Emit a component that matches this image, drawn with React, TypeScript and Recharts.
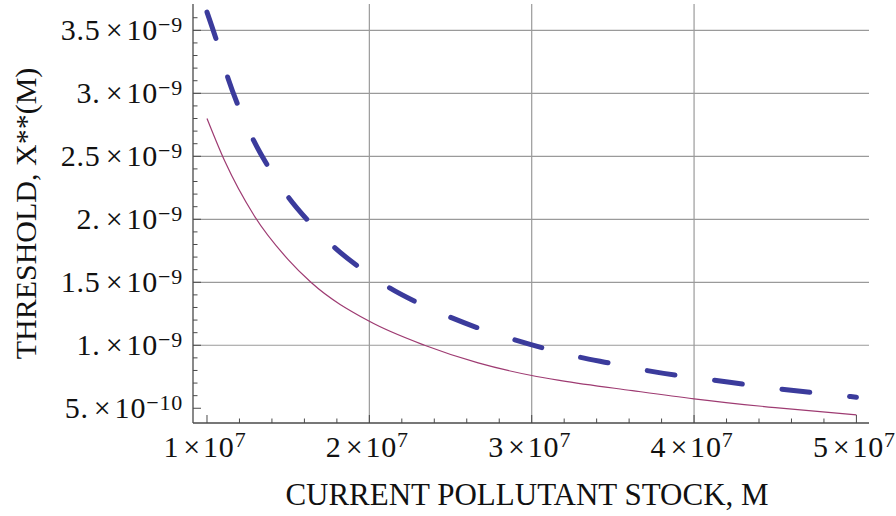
import React from "react";
import { LineChart, Line, XAxis, YAxis, CartesianGrid } from "recharts";

// dashed curve
const dashedStock = [
  1.0e7, 1.065e7, 1.13e7, 1.196e7, 1.288e7, 1.383e7, 1.506e7, 1.633e7, 1.79e7,
  1.94e7, 2.125e7, 2.3e7, 2.494e7, 2.679e7, 2.888e7, 3.079e7, 3.284e7, 3.489e7,
  3.694e7, 3.9e7, 4.105e7, 4.32e7, 4.515e7, 4.73e7, 4.935e7, 5.0e7,
];
const dashedThreshold = [
  3.645e-9, 3.395e-9, 3.118e-9, 2.888e-9, 2.624e-9, 2.405e-9, 2.167e-9,
  1.974e-9, 1.771e-9, 1.617e-9, 1.455e-9, 1.336e-9, 1.225e-9, 1.133e-9,
  1.046e-9, 0.975e-9, 0.909e-9, 0.856e-9, 0.803e-9, 0.76e-9, 0.726e-9,
  0.688e-9, 0.655e-9, 0.624e-9, 0.597e-9, 0.588e-9,
];

// solid curve
const solidStock = [
  1.0e7, 1.11e7, 1.29e7, 1.5e7, 1.64e7, 2.0e7, 2.34e7, 2.67e7, 3.0e7,
  3.18e7, 3.62e7, 4.0e7, 4.5e7, 5.0e7,
];
const solidThreshold = [
  2.8e-9, 2.46e-9, 2.03e-9, 1.68e-9, 1.5e-9, 1.19e-9, 1.0e-9, 0.86e-9,
  0.76e-9, 0.72e-9, 0.64e-9, 0.575e-9, 0.505e-9, 0.447e-9,
];

const xTicks = [1e7, 2e7, 3e7, 4e7, 5e7];
const xTickMantissa = ["1", "2", "3", "4", "5"];
const xTickExponent = ["7", "7", "7", "7", "7"];

const yTicks = [5e-10, 1e-9, 1.5e-9, 2e-9, 2.5e-9, 3e-9, 3.5e-9];
const yTickMantissa = ["5.", "1.", "1.5", "2.", "2.5", "3.", "3.5"];
const yTickExponent = ["\u221210", "\u22129", "\u22129", "\u22129", "\u22129", "\u22129", "\u22129"];

const xGrid = [2e7, 3e7, 4e7];
const yGrid = [1e-9, 1.5e-9, 2e-9, 2.5e-9, 3e-9, 3.5e-9];

const xDomain = [0.9138e7, 5.0775e7];
const yDomain = [0.383e-9, 3.709e-9];

// minor frame ticks
const xMinor = Array.from({ length: 21 }, (_, k) => 1e7 + k * 2e6);
const yMinor = Array.from({ length: 32 }, (_, k) => (5 + k) * 1e-10);

const dashedData = dashedStock.map((x, i) => ({ x, y: dashedThreshold[i] }));
const solidData = solidStock.map((x, i) => ({ x, y: solidThreshold[i] }));

const FONT = "'Liberation Serif', 'Times New Roman', serif";
const FRAME = "#4a4a4a";
const MAJOR = 8;
const MINOR = 4.5;

const findX = (v: number) => xTicks.findIndex((t) => Math.abs(t - v) < 1);
const findY = (v: number) => yTicks.findIndex((t) => Math.abs(t - v) < 1e-14);

function BottomTick(props: any) {
  const { x, y, payload } = props;
  const i = findX(payload.value);
  return (
    <g>
      <line x1={x} x2={x} y1={y} y2={y - (i >= 0 ? MAJOR : MINOR)} stroke={FRAME} />
      {i >= 0 && (
        <text x={x - 2} y={y + 34} textAnchor="middle" fontFamily={FONT} fontSize={30} letterSpacing={0.8} fill="#111">
          <tspan>{xTickMantissa[i]}</tspan>
          <tspan dx={4}>×</tspan>
          <tspan dx={2}>10</tspan>
          <tspan dy={-10} fontSize={22}>{xTickExponent[i]}</tspan>
        </text>
      )}
    </g>
  );
}

function TopTick(props: any) {
  const { x, y, payload } = props;
  const i = findX(payload.value);
  return <line x1={x} x2={x} y1={y} y2={y + (i >= 0 ? MAJOR : MINOR)} stroke={FRAME} />;
}

function LeftTick(props: any) {
  const { x, y, payload } = props;
  const i = findY(payload.value);
  return (
    <g>
      <line x1={x} x2={x + (i >= 0 ? MAJOR : MINOR)} y1={y} y2={y} stroke={FRAME} />
      {i >= 0 && (
        <text x={x - 10} y={y + 10} textAnchor="end" fontFamily={FONT} fontSize={30} letterSpacing={0.8} fill="#111">
          <tspan>{yTickMantissa[i]}</tspan>
          <tspan dx={5}>×</tspan>
          <tspan dx={3}>10</tspan>
          <tspan dy={-8} fontSize={22}>{yTickExponent[i]}</tspan>
        </text>
      )}
    </g>
  );
}

function RightTick(props: any) {
  const { x, y, payload } = props;
  const i = findY(payload.value);
  return <line x1={x} x2={x - (i >= 0 ? MAJOR : MINOR)} y1={y} y2={y} stroke={FRAME} />;
}

function XTitle(props: any) {
  const { viewBox } = props;
  return (
    <text x={viewBox.x + viewBox.width / 2 - 4} y={viewBox.y + 82} textAnchor="middle" fontFamily={FONT} fontSize={31} fill="#111">
      CURRENT POLLUTANT STOCK, M
    </text>
  );
}

function YTitle(props: any) {
  const { viewBox } = props;
  const cy = viewBox.y + viewBox.height / 2;
  return (
    <text x={36} y={cy} transform={`rotate(-90 36 ${cy})`} textAnchor="middle" fontFamily={FONT} fontSize={30} fill="#111">
      THRESHOLD, X**(M)
    </text>
  );
}

export default function App() {
  return (
    <div style={{ position: "absolute", left: 0, top: 0, width: 896, height: 516, background: "#fff" }}>
      <LineChart width={896} height={516} margin={{ top: 4, right: 27, bottom: 0, left: 0 }}>
        <CartesianGrid
          horizontalValues={yGrid}
          verticalValues={xGrid}
          stroke="#9a9a9a"
          strokeWidth={1.2}
          fill="none"
        />
        <XAxis
          dataKey="x"
          type="number"
          domain={xDomain}
          allowDataOverflow
          ticks={xMinor}
          interval={0}
          height={93}
          tickSize={0}
          tickMargin={0}
          tickLine={false}
          tick={BottomTick}
          axisLine={{ stroke: FRAME, strokeWidth: 1.3 }}
          label={<XTitle />}
        />
        <XAxis
          xAxisId="top"
          orientation="top"
          dataKey="x"
          type="number"
          domain={xDomain}
          allowDataOverflow
          ticks={xMinor}
          interval={0}
          height={0}
          tickSize={0}
          tickMargin={0}
          tickLine={false}
          tick={TopTick}
          axisLine={{ stroke: FRAME, strokeWidth: 1.3 }}
        />
        <YAxis
          type="number"
          domain={yDomain}
          allowDataOverflow
          ticks={yMinor}
          interval={0}
          width={193}
          tickSize={0}
          tickMargin={0}
          tickLine={false}
          tick={LeftTick}
          axisLine={{ stroke: FRAME, strokeWidth: 1.3 }}
          label={<YTitle />}
        />
        <YAxis
          yAxisId="right"
          orientation="right"
          type="number"
          domain={yDomain}
          allowDataOverflow
          ticks={yMinor}
          interval={0}
          width={0}
          tickSize={0}
          tickMargin={0}
          tickLine={false}
          tick={RightTick}
          axisLine={{ stroke: FRAME, strokeWidth: 1.3 }}
        />
        <Line
          data={solidData}
          dataKey="y"
          type="monotone"
          stroke="#9e3b72"
          strokeWidth={1.2}
          dot={false}
          isAnimationActive={false}
        />
        <Line
          data={dashedData}
          dataKey="y"
          type="monotone"
          stroke="#3b3b9c"
          strokeWidth={5}
          strokeDasharray="28 40"
          strokeLinecap="round"
          dot={false}
          isAnimationActive={false}
        />
      </LineChart>
    </div>
  );
}
